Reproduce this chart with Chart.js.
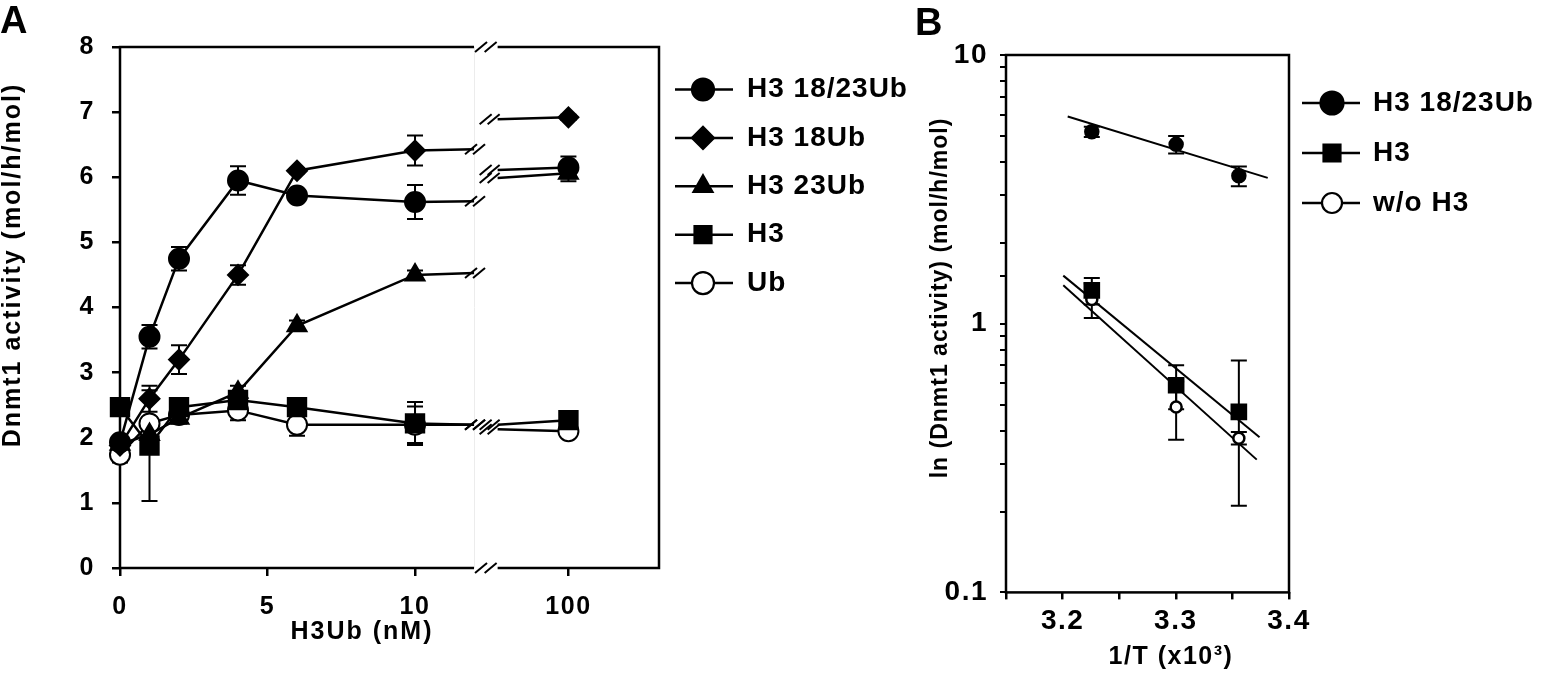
<!DOCTYPE html>
<html>
<head>
<meta charset="utf-8">
<script src="https://cdn.jsdelivr.net/npm/chart.js@4.4.1/dist/chart.umd.min.js"></script>
<style>
  html, body { margin: 0; padding: 0; background: #fff; overflow: hidden; }
  #wrapA { position: absolute; left: 0; top: 0; width: 915px; height: 673px; }
  #wrapB { position: absolute; left: 912px; top: 0; width: 629px; height: 673px; }
</style>
</head>
<body>
<div id="wrapA"><canvas id="chartA" width="915" height="673"></canvas></div>
<div id="wrapB"><canvas id="chartB" width="629" height="673"></canvas></div>
<script>
var plotFont = "'Liberation Sans', Arial, Helvetica, sans-serif";

// ---------- panel A : activity vs H3Ub concentration ----------
var concentrations = [0, 1, 2, 4, 6, 10];
var highConcentration = 100;
var xTickLabelsA = ["0", "5", "10", "100"];
var seriesNamesA = ["H3 18/23Ub", "H3 18Ub", "H3 23Ub", "H3", "Ub"];

var h3_18_23Ub     = [1.93, 3.55, 4.75, 5.95, 5.72, 5.62];
var h3_18_23Ub_err = [0.05, 0.18, 0.18, 0.22, 0.08, 0.26];
var h3_18Ub        = [1.88, 2.60, 3.20, 4.50, 6.10, 6.41];
var h3_18Ub_err    = [0.05, 0.20, 0.22, 0.15, 0.04, 0.23];
var h3_23Ub        = [1.90, 2.05, 2.30, 2.70, 3.72, 4.50];
var h3_23Ub_err    = [0.05, 0.10, 0.08, 0.10, 0.08, 0.07];
var h3Only         = [2.47, 1.88, 2.47, 2.58, 2.47, 2.22];
var h3Only_err     = [0.05, 0.85, 0.12, 0.10, 0.10, 0.33];
var ubOnly         = [1.74, 2.22, 2.35, 2.42, 2.20, 2.20];
var ubOnly_err     = [0.12, 0.10, 0.10, 0.15, 0.17, 0.28];

// values at 100 nM (right of the axis break), same series order
var at100     = [6.15, 6.92, 6.06, 2.27, 2.10];
var at100_err = [0.17, 0.04, 0.12, 0.05, 0.07];
// where each line meets the break marks on either side
var breakLeftY  = [5.63, 6.43, 4.53, 2.20, 2.20];
var breakRightY = [6.11, 6.89, 5.99, 2.20, 2.13];

// ---------- panel B : Arrhenius plot ----------
var invTemp = [3.2258, 3.3003, 3.3557];
var xTickLabelsB = ["3.2", "3.3", "3.4"];
var yTickLabelsB = ["0.1", "1", "10"];
var seriesNamesB = ["H3 18/23Ub", "H3", "w/o H3"];

var bH3Ub     = [5.18, 4.65, 3.55];
var bH3Ub_err = [0.23, 0.35, 0.30];
var bH3       = [1.33, 0.59, 0.47];
var bH3_err   = [0.15, 0.11, 0.26];
var bNoH3     = [1.23, 0.49, 0.375];
var bNoH3_err = [0.18, 0.12, 0.02];

// fitted lines, read at their two ends
var fitX = [[3.2045, 3.3812], [3.2006, 3.3740], [3.2006, 3.3715]];
var fitY = [[5.90, 3.49], [1.51, 0.378], [1.39, 0.312]];

// broken x axis of panel A (axis units)
var BREAK_AT = 12, RESUME_AT = 12.8, POS_100 = 15.2, X_MAX_A = 18.27;
function axisPosA(v) { return v <= BREAK_AT ? v : POS_100 + (v - highConcentration) * 0.02; }

function drawMarker(ctx, style, x, y, r, filled, lw) {
  ctx.beginPath();
  if (style === "rectRot") {
    ctx.moveTo(x - r, y); ctx.lineTo(x, y - r); ctx.lineTo(x + r, y); ctx.lineTo(x, y + r); ctx.closePath();
  } else if (style === "triangle") {
    ctx.moveTo(x, y - r); ctx.lineTo(x + r * 0.866, y + r / 2); ctx.lineTo(x - r * 0.866, y + r / 2); ctx.closePath();
  } else if (style === "rect") {
    var s = r * Math.SQRT1_2;
    ctx.rect(x - s, y - s, 2 * s, 2 * s);
  } else {
    ctx.arc(x, y, r, 0, Math.PI * 2);
  }
  ctx.fillStyle = filled ? "#000" : "#fff";
  ctx.fill();
  ctx.lineWidth = lw;
  ctx.strokeStyle = "#000";
  ctx.stroke();
}

function slash(ctx, cx, cy) {
  ctx.beginPath();
  ctx.moveTo(cx - 6, cy + 5);
  ctx.lineTo(cx + 6, cy - 5);
  ctx.stroke();
}

var errorBars = {
  id: "errorBars",
  beforeDatasetsDraw: function (chart, args, o) {
    var ctx = chart.ctx, ys = chart.scales.y;
    ctx.save();
    ctx.strokeStyle = "#000";
    ctx.lineWidth = o.lineWidth;
    chart.data.datasets.forEach(function (ds, i) {
      if (!ds.errors) return;
      var meta = chart.getDatasetMeta(i);
      ds.data.forEach(function (d, j) {
        var e = ds.errors[j];
        if (e == null || d.y == null) return;
        var x = meta.data[j].x;
        var top = ys.getPixelForValue(d.y + e), bot = ys.getPixelForValue(d.y - e);
        ctx.beginPath();
        ctx.moveTo(x, top); ctx.lineTo(x, bot);
        ctx.moveTo(x - o.cap, top); ctx.lineTo(x + o.cap, top);
        ctx.moveTo(x - o.cap, bot); ctx.lineTo(x + o.cap, bot);
        ctx.stroke();
      });
    });
    ctx.restore();
  }
};

var figureLegend = {
  id: "figureLegend",
  afterDraw: function (chart, args, o) {
    var ctx = chart.ctx;
    ctx.save();
    o.items.forEach(function (it, i) {
      var y = o.y0 + i * o.dy;
      ctx.beginPath();
      ctx.moveTo(o.x1, y); ctx.lineTo(o.x2, y);
      ctx.lineWidth = 2.5; ctx.strokeStyle = "#000";
      ctx.stroke();
      drawMarker(ctx, it.style, o.mx, y, it.r, it.filled, 2.2);
      ctx.font = "bold " + o.size + "px " + plotFont;
      ctx.letterSpacing = o.spacing + "px";
      ctx.textBaseline = "middle";
      ctx.textAlign = "left";
      ctx.fillStyle = "#000";
      ctx.fillText(it.label, o.tx, y);
    });
    ctx.restore();
  }
};

var figureText = {
  id: "figureText",
  beforeDraw: function (chart, args, o) { chart.ctx.letterSpacing = o.tickSpacing + "px"; },
  afterDraw: function (chart, args, o) {
    var ctx = chart.ctx;
    o.texts.forEach(function (t) {
      ctx.save();
      ctx.font = "bold " + t.size + "px " + plotFont;
      ctx.letterSpacing = (t.spacing || 0) + "px";
      ctx.fillStyle = "#000";
      ctx.textAlign = t.align || "center";
      ctx.textBaseline = t.baseline || "middle";
      ctx.translate(t.x, t.y);
      if (t.rotate) ctx.rotate(t.rotate);
      ctx.fillText(t.text, 0, 0);
      ctx.restore();
    });
  }
};

var brokenFrame = {
  id: "brokenFrame",
  beforeDatasetsDraw: function (chart) {
    var a = chart.chartArea, xs = chart.scales.x, ctx = chart.ctx;
    var g1 = xs.getPixelForValue(BREAK_AT), g2 = xs.getPixelForValue(RESUME_AT);
    ctx.save();
    ctx.strokeStyle = "#ececec"; ctx.lineWidth = 1;
    ctx.beginPath(); ctx.moveTo(g1 + 0.5, a.top); ctx.lineTo(g1 + 0.5, a.bottom); ctx.stroke();
    ctx.strokeStyle = "#000"; ctx.lineWidth = 2.5; ctx.lineJoin = "miter";
    ctx.beginPath();
    ctx.moveTo(g1, a.bottom); ctx.lineTo(a.left, a.bottom); ctx.lineTo(a.left, a.top); ctx.lineTo(g1, a.top);
    ctx.moveTo(g2, a.top); ctx.lineTo(a.right, a.top); ctx.lineTo(a.right, a.bottom); ctx.lineTo(g2, a.bottom);
    ctx.stroke();
    ctx.lineWidth = 2;
    [a.top, a.bottom].forEach(function (y) { slash(ctx, g1 + 7, y); slash(ctx, g2 - 7, y); });
    ctx.restore();
  },
  afterDatasetsDraw: function (chart) {
    var ctx = chart.ctx, n = concentrations.length;
    ctx.save();
    ctx.strokeStyle = "#000"; ctx.lineWidth = 2;
    chart.data.datasets.forEach(function (ds, i) {
      var meta = chart.getDatasetMeta(i);
      var pl = meta.data[n], pr = meta.data[n + 2];
      slash(ctx, pl.x - 3, pl.y); slash(ctx, pl.x + 5, pl.y);
      slash(ctx, pr.x - 12, pr.y); slash(ctx, pr.x - 4, pr.y);
    });
    ctx.restore();
  }
};

var boxFrame = {
  id: "boxFrame",
  beforeDatasetsDraw: function (chart) {
    var a = chart.chartArea, ctx = chart.ctx;
    ctx.save();
    ctx.strokeStyle = "#000"; ctx.lineWidth = 2.5;
    ctx.strokeRect(a.left, a.top, a.right - a.left, a.bottom - a.top);
    ctx.restore();
  }
};

// ---------- build panel A ----------
var stylesA = [
  { style: "circle", r: 10, filled: true },
  { style: "rectRot", r: 10, filled: true },
  { style: "triangle", r: 11, filled: true },
  { style: "rect", r: 13, filled: true },
  { style: "circle", r: 10, filled: false }
];
var valuesA = [h3_18_23Ub, h3_18Ub, h3_23Ub, h3Only, ubOnly];
var errorsA = [h3_18_23Ub_err, h3_18Ub_err, h3_23Ub_err, h3Only_err, ubOnly_err];

var datasetsA = valuesA.map(function (vals, k) {
  var pts = [], radii = [], errs = [], st = stylesA[k];
  concentrations.forEach(function (c, i) {
    pts.push({ x: axisPosA(c), y: vals[i] });
    radii.push(st.r);
    errs.push(errorsA[k][i]);
  });
  pts.push({ x: BREAK_AT, y: breakLeftY[k] },
           { x: (BREAK_AT + RESUME_AT) / 2, y: null },
           { x: RESUME_AT, y: breakRightY[k] },
           { x: axisPosA(highConcentration), y: at100[k] });
  radii.push(0, 0, 0, st.r);
  errs.push(null, null, null, at100_err[k]);
  return {
    label: seriesNamesA[k],
    data: pts,
    errors: errs,
    borderColor: "#000",
    borderWidth: 2.5,
    pointStyle: st.style,
    pointRadius: radii,
    pointHoverRadius: radii,
    pointBackgroundColor: st.filled ? "#000" : "#fff",
    pointBorderColor: "#000",
    pointBorderWidth: 2,
    tension: 0,
    fill: false,
    clip: false
  };
});

var tickFontA = { family: plotFont, size: 25, weight: "bold" };

new Chart(document.getElementById("chartA"), {
  type: "line",
  data: { datasets: datasetsA },
  options: {
    responsive: false,
    animation: false,
    devicePixelRatio: 1,
    events: [],
    layout: { padding: { left: 0, top: 47, right: 256, bottom: 0 } },
    scales: {
      x: {
        type: "linear",
        min: 0,
        max: X_MAX_A,
        afterBuildTicks: function (s) {
          s.ticks = [0, 5, 10, highConcentration].map(function (v) { return { value: axisPosA(v) }; });
        },
        afterFit: function (s) { s.height = 105; },
        ticks: {
          autoSkip: false, maxRotation: 0, color: "#000", font: tickFontA, padding: 16,
          callback: function (v, i) { return xTickLabelsA[i]; }
        },
        grid: { drawOnChartArea: false, color: "#000", lineWidth: 2.5, tickLength: 8 },
        border: { display: false }
      },
      y: {
        min: 0,
        max: 8,
        afterFit: function (s) { s.width = 120; },
        ticks: { stepSize: 1, color: "#000", font: tickFontA, padding: 17 },
        grid: { drawOnChartArea: false, color: "#000", lineWidth: 2.5, tickLength: 8 },
        border: { display: false }
      }
    },
    plugins: {
      legend: { display: false },
      tooltip: { enabled: false },
      errorBars: { lineWidth: 2, cap: 8 },
      figureLegend: {
        x1: 675, x2: 733, mx: 703, tx: 747, y0: 89.5, dy: 48.4, size: 28, spacing: 1,
        items: stylesA.map(function (s, k) {
          return { label: seriesNamesA[k], style: s.style, r: s.style === "rect" ? 12 : 11, filled: s.filled };
        })
      },
      figureText: {
        tickSpacing: 1.5,
        texts: [
          { text: "A", x: 0, y: 33, size: 38, align: "left", baseline: "alphabetic" },
          { text: "Dnmt1 activity (mol/h/mol)", x: 13, y: 265, size: 25, spacing: 2, rotate: -Math.PI / 2 },
          { text: "H3Ub (nM)", x: 362, y: 632, size: 25, spacing: 2 }
        ]
      }
    }
  },
  plugins: [brokenFrame, errorBars, figureLegend, figureText]
});

// ---------- build panel B ----------
var stylesB = [
  { style: "circle", r: 6.5, filled: true, lr: 11.5 },
  { style: "rect", r: 10, filled: true, lr: 12 },
  { style: "circle", r: 5.5, filled: false, lr: 10 }
];
var valuesB = [bH3Ub, bH3, bNoH3];
var errorsB = [bH3Ub_err, bH3_err, bNoH3_err];

var datasetsB = [];
valuesB.forEach(function (vals, k) {
  datasetsB.push({
    label: seriesNamesB[k],
    data: invTemp.map(function (t, i) { return { x: t, y: vals[i] }; }),
    errors: errorsB[k],
    showLine: false,
    pointStyle: stylesB[k].style,
    pointRadius: stylesB[k].r,
    pointHoverRadius: stylesB[k].r,
    pointBackgroundColor: stylesB[k].filled ? "#000" : "#fff",
    pointBorderColor: "#000",
    pointBorderWidth: 2.5,
    clip: false
  });
});
fitX.forEach(function (xs, k) {
  datasetsB.push({
    label: seriesNamesB[k] + " fit",
    data: [{ x: xs[0], y: fitY[k][0] }, { x: xs[1], y: fitY[k][1] }],
    borderColor: "#000",
    borderWidth: 2,
    pointRadius: 0,
    tension: 0,
    fill: false
  });
});

var tickFontB = { family: plotFont, size: 28, weight: "bold" };

new Chart(document.getElementById("chartB"), {
  type: "line",
  data: { datasets: datasetsB },
  options: {
    responsive: false,
    animation: false,
    devicePixelRatio: 1,
    events: [],
    layout: { padding: { left: 0, top: 55, right: 252, bottom: 0 } },
    scales: {
      x: {
        type: "linear",
        min: 3.15,
        max: 3.4,
        afterFit: function (s) { s.height = 80.6; },
        ticks: {
          stepSize: 0.05, autoSkip: false, maxRotation: 0, color: "#000", font: tickFontB, padding: 5,
          callback: function (v) {
            var i = xTickLabelsB.indexOf(String(Math.round(v * 100) / 100));
            return i >= 0 ? xTickLabelsB[i] : "";
          }
        },
        grid: { drawOnChartArea: false, color: "#000", lineWidth: 2.5, tickLength: 7 },
        border: { display: false }
      },
      y: {
        type: "logarithmic",
        min: 0.1,
        max: 10,
        afterFit: function (s) { s.width = 94; },
        ticks: {
          autoSkip: false, color: "#000", font: tickFontB, padding: 12,
          callback: function (v) {
            var i = yTickLabelsB.indexOf(String(Math.round(v * 1000) / 1000));
            return i >= 0 ? yTickLabelsB[i] : "";
          }
        },
        grid: { drawOnChartArea: false, color: "#000", lineWidth: 2, tickLength: 6 },
        border: { display: false }
      }
    },
    plugins: {
      legend: { display: false },
      tooltip: { enabled: false },
      errorBars: { lineWidth: 2, cap: 8 },
      figureLegend: {
        x1: 390, x2: 448, mx: 420, tx: 461, y0: 103, dy: 50, size: 28, spacing: 1,
        items: stylesB.map(function (s, k) {
          return { label: seriesNamesB[k], style: s.style, r: s.lr, filled: s.filled };
        })
      },
      figureText: {
        tickSpacing: 1.5,
        texts: [
          { text: "B", x: 3, y: 35, size: 38, align: "left", baseline: "alphabetic" },
          { text: "ln (Dnmt1 activity) (mol/h/mol)", x: 29, y: 298, size: 23, spacing: 1, rotate: -Math.PI / 2 },
          { text: "1/T (x10³)", x: 259, y: 657, size: 25, spacing: 1.5 }
        ]
      }
    }
  },
  plugins: [boxFrame, errorBars, figureLegend, figureText]
});
</script>
</body>
</html>
